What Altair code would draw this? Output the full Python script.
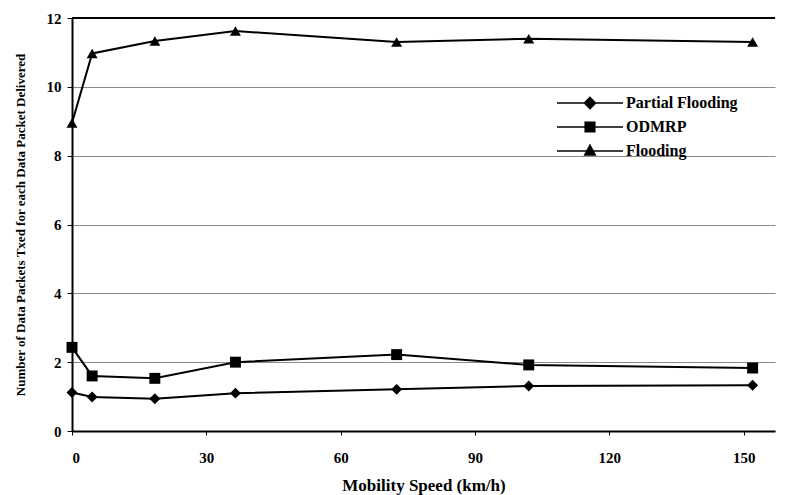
import altair as alt
import pandas as pd

speeds = [0, 4.5, 18.5, 36.5, 72.5, 102, 152]
partial = [1.12, 0.99, 0.94, 1.1, 1.21, 1.31, 1.33]
odmrp = [2.43, 1.6, 1.53, 2.0, 2.22, 1.92, 1.83]
flooding = [8.95, 10.97, 11.33, 11.62, 11.3, 11.4, 11.3]
series_names = ["Partial Flooding", "ODMRP", "Flooding"]
x_ticks = [0, 30, 60, 90, 120, 150]
y_ticks = [0, 2, 4, 6, 8, 10, 12]

rows = []
for name, vals in zip(series_names, [partial, odmrp, flooding]):
    for s, v in zip(speeds, vals):
        rows.append({"speed": s, "value": v, "series": name, "series_leg": name})
df = pd.DataFrame(rows)

FONT = "Liberation Serif"
LEG_FONT = "Liberation Serif, Times New Roman, serif"

x_enc = alt.X("speed:Q", scale=alt.Scale(domain=[0, 157], nice=False),
              axis=alt.Axis(values=x_ticks, title="Mobility Speed (km/h)", grid=False,
                            labelFont=FONT, labelFontSize=15, labelFontWeight="bold",
                            labelColor="black", labelPadding=15,
                            titleFont=FONT, titleFontSize=17, titleFontWeight="bold",
                            titleColor="black", titlePadding=12,
                            domainColor="black", domainWidth=2, tickColor="black",
                            tickSize=4))
y_enc = alt.Y("value:Q", scale=alt.Scale(domain=[0, 12], nice=False),
              axis=alt.Axis(values=y_ticks, title="Number of Data Packets Txed for each Data Packet Delivered",
                            grid=True, gridColor="#8a8a8a", gridWidth=1,
                            labelFont=FONT, labelFontSize=15, labelFontWeight="bold",
                            labelColor="black", labelPadding=6,
                            titleFont=FONT, titleFontSize=13, titleFontWeight="bold",
                            titleColor="black", titlePadding=19,
                            domainColor="black", domainWidth=2, tickColor="black",
                            tickSize=5))

base = alt.Chart(df)

lines = base.mark_line(color="black", strokeWidth=2).encode(
    x=x_enc, y=y_enc, detail="series:N")

points = base.mark_point(filled=True, color="black", opacity=1, size=120).encode(
    x="speed:Q", y="value:Q",
    shape=alt.Shape("series:N", scale=alt.Scale(domain=series_names,
                                                range=["diamond", "square", "triangle-up"]),
                    legend=None))


def diamond(r):
    return f"M0,{-r}L{r},0L0,{r}L{-r},0Z"


def square(r):
    return f"M{-r},{-r}H{r}V{r}H{-r}Z"


def triangle(r):
    return f"M0,{-r}L{r * 0.9},{r * 0.7}L{-r * 0.9},{r * 0.7}Z"


LINE = "M-6.6,0H6.6"
leg_paths = [
    LINE + "".join(diamond(r) for r in (1.1, 0.8, 0.5, 0.2)),
    LINE + "".join(square(r) for r in (0.95, 0.65, 0.35, 0.1)),
    LINE + "".join(triangle(r) for r in (1.15, 0.8, 0.45, 0.15)),
]
legend_layer = base.transform_filter("false").mark_point(
    filled=False, color="black", opacity=1, strokeWidth=1.6).encode(
    x="speed:Q", y="value:Q",
    shape=alt.Shape("series_leg:N",
                    scale=alt.Scale(domain=series_names, range=leg_paths),
                    legend=alt.Legend(title=None, orient="none", legendX=510, legendY=77,
                                      labelFont=LEG_FONT, labelFontSize=16, labelColor="black",
                                      labelFontWeight="bold",
                                      labelOffset=28, rowPadding=7, symbolSize=100,
                                      symbolStrokeColor="black",
                                      symbolStrokeWidth=1.6, symbolOpacity=1)))

top_rule = alt.Chart(pd.DataFrame({"y": [12]})).mark_rule(color="black", strokeWidth=2).encode(
    y=alt.Y("y:Q", scale=alt.Scale(domain=[0, 12], nice=False)))

chart = alt.layer(lines, points, legend_layer, top_rule).resolve_scale(
    shape="independent"
).properties(
    width=703, height=413,
    autosize=alt.AutoSizeParams(type="none"),
    padding={"left": 72, "top": 18, "right": 10, "bottom": 64},
    background="white",
).configure(font=FONT).configure_view(stroke=None)

chart.save("out.html", embed_options={"renderer": "svg", "actions": False})
